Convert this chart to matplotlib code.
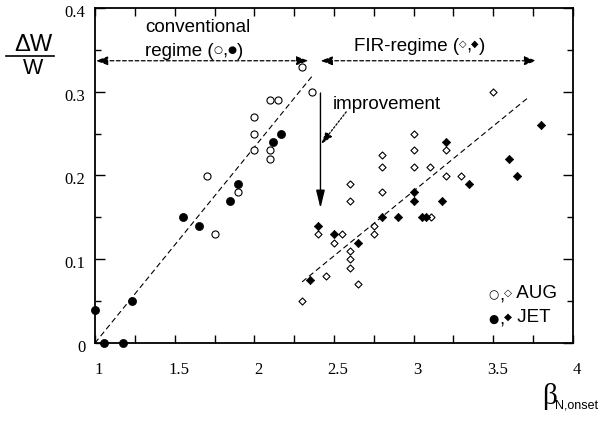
import matplotlib
matplotlib.use('Agg')
import matplotlib.pyplot as plt
from matplotlib.ticker import MultipleLocator, FormatStrFormatter
from matplotlib.lines import Line2D
from matplotlib.transforms import ScaledTranslation

# conventional regime (circles)
conv_aug_x = [2.30, 2.36, 2.10, 2.15, 2.00, 2.00, 2.00, 2.10, 2.10, 1.70, 1.90, 1.75]
conv_aug_y = [0.33, 0.30, 0.29, 0.29, 0.27, 0.25, 0.23, 0.23, 0.22, 0.20, 0.18, 0.13]
conv_jet_x = [2.17, 2.12, 1.90, 1.85, 1.55, 1.65, 1.23, 1.00, 1.055, 1.175]
conv_jet_y = [0.25, 0.24, 0.19, 0.17, 0.15, 0.14, 0.05, 0.04, 0.00, 0.00]

# FIR regime (diamonds)
fir_aug_x = [3.50, 3.00, 3.00, 3.00, 3.10, 2.80, 2.80, 2.80, 2.60, 2.60, 3.20, 3.20,
             3.30, 3.11, 2.75, 2.75, 2.40, 2.55, 2.50, 2.60, 2.60, 2.60, 2.45, 2.65, 2.30]
fir_aug_y = [0.30, 0.25, 0.23, 0.21, 0.21, 0.225, 0.21, 0.18, 0.19, 0.17, 0.23, 0.20,
             0.20, 0.15, 0.14, 0.13, 0.13, 0.13, 0.12, 0.11, 0.10, 0.09, 0.08, 0.07, 0.05]
fir_jet_x = [3.80, 3.20, 3.60, 3.65, 3.35, 3.00, 3.00, 3.18, 2.90, 2.80, 3.05, 3.08,
             2.40, 2.50, 2.65, 2.35]
fir_jet_y = [0.26, 0.24, 0.22, 0.20, 0.19, 0.18, 0.17, 0.17, 0.15, 0.15, 0.15, 0.15,
             0.14, 0.13, 0.12, 0.075]

# dashed trend lines
conv_fit_x = [1.0, 2.36]
conv_fit_y = [0.0, 0.318]
fir_fit_x = [2.30, 3.725]
fir_fit_y = [0.073, 0.294]

SANS = ['Liberation Sans', 'DejaVu Sans']
SYM = ['DejaVu Sans']
SERIF = 'Liberation Serif'


def rich_text(ax, x, y, pieces):
    # pieces: (text, fontsize, family, raise in points)
    s, fs, fam, dy = pieces[0]
    first = ax.text(x, y, s, fontsize=fs, family=fam, va='baseline', ha='left')
    prev = first
    for s, fs, fam, dy in pieces[1:]:
        prev = ax.annotate(s, xy=(1, 0), xycoords=(prev, first), xytext=(0, dy),
                           textcoords='offset points', fontsize=fs, family=fam,
                           va='bottom', ha='left')
    return first


fig = plt.figure(figsize=(6, 4.21), dpi=100)
ax = fig.add_axes([95 / 600, 1 - 343 / 421, 478 / 600, 335 / 421])

ax.plot(conv_fit_x, conv_fit_y, color='k', lw=0.8, ls=(0, (5, 3)))
ax.plot(fir_fit_x, fir_fit_y, color='k', lw=0.8, ls=(0, (5, 3)))

ax.scatter(conv_aug_x, conv_aug_y, s=26, marker='o', facecolor='white',
           edgecolor='k', linewidth=0.8, zorder=3, clip_on=False)
ax.scatter(conv_jet_x, conv_jet_y, s=34, marker='o', facecolor='k',
           edgecolor='k', linewidth=0.5, zorder=3, clip_on=False)
ax.scatter(fir_aug_x, fir_aug_y, s=13, marker='D', facecolor='white',
           edgecolor='k', linewidth=0.8, zorder=3, clip_on=False)
ax.scatter(fir_jet_x, fir_jet_y, s=18, marker='D', facecolor='k',
           edgecolor='k', linewidth=0.5, zorder=3, clip_on=False)

ax.set_xlim(1.0, 4.0)
ax.set_ylim(0, 0.4)

# regime arrows
dash_arrow = dict(arrowstyle='<|-|>,head_length=0.6,head_width=0.22', color='k',
                  lw=0.9, ls=(0, (3, 2)), shrinkA=0, shrinkB=0, mutation_scale=12)
ax.annotate('', xy=(2.34, 0.337), xytext=(1.005, 0.337), arrowprops=dash_arrow)
ax.annotate('', xy=(3.77, 0.337), xytext=(2.415, 0.337), arrowprops=dash_arrow)

ax.annotate('', xy=(2.415, 0.161), xytext=(2.415, 0.2985),
            arrowprops=dict(arrowstyle='-|>,head_length=0.9,head_width=0.22', color='k',
                            lw=1.0, shrinkA=0, shrinkB=0, mutation_scale=12))
ax.annotate('', xy=(2.42, 0.2376), xytext=(2.577, 0.276),
            arrowprops=dict(arrowstyle='-|>,head_length=0.6,head_width=0.2', color='k',
                            lw=0.9, ls=(0, (1.5, 1.5)), shrinkA=0, shrinkB=0,
                            mutation_scale=12))

# annotation texts
ax.text(1.314, 0.377, 'conventional', fontsize=13.5, family=SANS, va='center')
rich_text(ax, 1.314, 0.343, [('regime (', 13.5, SANS, 0),
                             ('\u25cb', 7.5, SYM, 3.5),
                             (',', 13.5, SANS, 0),
                             ('\u25cf', 7.5, SYM, 3.5),
                             (')', 13.5, SANS, 0)])
rich_text(ax, 2.623, 0.349, [('FIR-regime (', 13.5, SANS, 0),
                             ('\u25c7', 7, SYM, 4),
                             (',', 13.5, SANS, 0),
                             ('\u25c6', 7, SYM, 4),
                             (')', 13.5, SANS, 0)])
ax.text(2.49, 0.285, 'improvement', fontsize=13.5, family=SANS, va='center')

# legend made of text
rich_text(ax, 3.47, 0.053, [('\u25cb', 8.5, SYM, 0),
                            (',', 13.5, SANS, -2),
                            ('\u25c7', 7.5, SYM, 3),
                            (' AUG', 13.5, SANS, 0)])
rich_text(ax, 3.47, 0.024, [('\u25cf', 8.5, SYM, 0),
                            (',', 13.5, SANS, -2),
                            ('\u25c6', 7.5, SYM, 3),
                            (' JET', 13.5, SANS, 0)])

# ticks
ax.xaxis.set_major_locator(MultipleLocator(0.5))
ax.xaxis.set_minor_locator(MultipleLocator(0.25))
ax.yaxis.set_major_locator(MultipleLocator(0.1))
ax.yaxis.set_minor_locator(MultipleLocator(0.05))
ax.xaxis.set_major_formatter(FormatStrFormatter('%g'))
ax.yaxis.set_major_formatter(FormatStrFormatter('%g'))
ax.tick_params(axis='x', which='both', direction='in', top=True, bottom=True,
               length=5.5, width=1, pad=14, labelsize=12)
ax.tick_params(axis='y', which='major', direction='in', left=True, right=True,
               length=7, width=1, pad=7, labelsize=12)
ax.tick_params(axis='y', which='minor', direction='in', left=True, right=True,
               length=4, width=1)
for lab in ax.get_xticklabels():
    lab.set_family(SERIF)
    lab.set_transform(lab.get_transform() + ScaledTranslation(4 / 100, 0, fig.dpi_scale_trans))
for lab in ax.get_yticklabels():
    lab.set_family(SERIF)
    lab.set_transform(lab.get_transform() + ScaledTranslation(0, -3 / 100, fig.dpi_scale_trans))
for sp in ax.spines.values():
    sp.set_linewidth(1.3)

# axis labels
fig.text(33 / 600, 1 - 45 / 421, '\u0394W', fontsize=17, family=SANS, ha='center', va='center')
fig.add_artist(Line2D([6 / 600, 54 / 600], [1 - 56 / 421, 1 - 56 / 421], color='k', lw=1.2))
fig.text(33 / 600, 1 - 69 / 421, 'W', fontsize=15.5, family=SANS, ha='center', va='center')
fig.text(542 / 600, 1 - 396 / 421, '\u03b2', fontsize=21, family=SERIF, ha='left', va='center')
fig.text(555 / 600, 1 - 405 / 421, 'N,onset', fontsize=9, family=SANS, ha='left', va='center')

fig.savefig('out.png', dpi=100)
